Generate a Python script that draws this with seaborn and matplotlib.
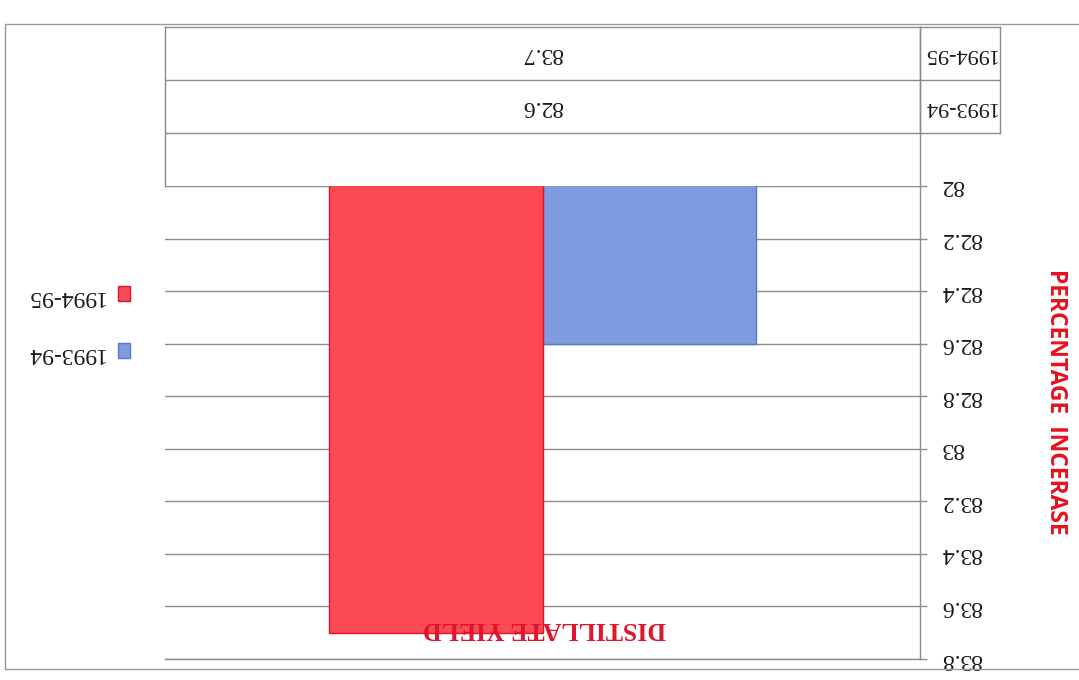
import numpy as np
import pandas as pd
import matplotlib
matplotlib.use('Agg')
import matplotlib.pyplot as plt
import seaborn as sns
from matplotlib.patches import Rectangle, Patch

sns.set_style('white')
plt.rcParams['font.family'] = ['Liberation Serif', 'DejaVu Serif']

# chart data (scan is upside down, so everything is drawn turned by 180 degrees)
item = ['']
years = ['1993-94', '1994-95']
values = [82.6, 83.7]
value_text = ['82.6', '83.7']
title = 'DISTILLATE YIELD'
ylabel = 'PERCENTAGE  INCERASE'
yticks = [82, 82.2, 82.4, 82.6, 82.8, 83, 83.2, 83.4, 83.6, 83.8]
ytick_labels = ['82', '82.2', '82.4', '82.6', '82.8', '83', '83.2', '83.4', '83.6', '83.8']

colors = ['#7f9be0', '#fc4a55']
edges = ['#5877d0', '#e0142a']
grid_c = '#8c8c8c'

df = pd.DataFrame({'Item': item * len(years), 'Year': years, 'Value': values})

W, H = 1079, 680
fig = plt.figure(figsize=(W / 100, H / 100), dpi=100)
fig.patch.set_facecolor('white')

# outer chart frame
fig.add_artist(Rectangle((5 / W, 1 - 669 / H), 1.2, (669 - 24) / H, transform=fig.transFigure,
                         fill=False, ec='#9a9a9a', lw=1))

# plot area: 82 at top, 83.8 at bottom, series order mirrored
ax = fig.add_axes([165 / W, 1 - 659 / H, 755 / W, 473 / H])
sns.barplot(data=df, x='Item', y='Value', hue='Year', hue_order=years, palette=colors,
            width=0.565, saturation=1, legend=False, ax=ax)
for p, ec in zip(ax.patches, edges):
    p.set_edgecolor(ec)
    p.set_linewidth(1)
ax.set_ylim(83.8, 82)
ax.set_xlim(0.5, -0.5)
ax.set_yticks(yticks)
ax.set_yticklabels(ytick_labels)
ax.set_xticks([])
ax.set_xlabel('')
ax.set_ylabel('')
ax.yaxis.tick_right()
ax.tick_params(axis='y', direction='out', length=5, width=1, color=grid_c,
               labelsize=17, labelrotation=180, pad=10, labelcolor='#1a1a1a')
for t in ax.get_yticklabels():
    t.set_va('center')
ax.yaxis.grid(True, color=grid_c, lw=1)
ax.set_axisbelow(True)
for s in ['left', 'top']:
    ax.spines[s].set_visible(False)
for s in ['right', 'bottom']:
    ax.spines[s].set_color(grid_c)
    ax.spines[s].set_linewidth(1)
ax.set_facecolor('none')

# y axis title, reads downwards on the right
fig.text(1056 / W, 1 - 402 / H, ylabel, rotation=270, color='#e8101e', fontsize=16.5,
         fontweight='bold', family=['Open Sans', 'DejaVu Sans'], ha='center', va='center')

# title, upside down near the bottom
fig.text(545 / W, 1 - 628 / H, title, rotation=180, color='#e0142c', fontsize=18.5,
         fontweight='bold', ha='center', va='center', zorder=5)

# data table above the plot (rows mirrored)
tax = fig.add_axes([165 / W, 1 - 186 / H, 755 / W, 159 / H])
tax.set_xlim(0, 1)
tax.set_ylim(0, 3)
tax.set_xticks([])
tax.set_yticks([])
tax.set_facecolor('none')
for s in tax.spines.values():
    s.set_color(grid_c)
    s.set_linewidth(1)
tax.spines['bottom'].set_visible(False)
for r in [1, 2]:
    tax.axhline(r, color=grid_c, lw=1)
for i, txt in enumerate(value_text):
    tax.text(0.5, i + 1.5, txt, rotation=180, ha='center', va='center', fontsize=17,
             color='#1a1a1a')

# row label cells
lax = fig.add_axes([920 / W, 1 - 133 / H, 80 / W, 106 / H])
lax.set_xlim(0, 1)
lax.set_ylim(1, 3)
lax.set_xticks([])
lax.set_yticks([])
lax.set_facecolor('none')
for s in lax.spines.values():
    s.set_color(grid_c)
    s.set_linewidth(1)
lax.axhline(2, color=grid_c, lw=1)
for i, yr in enumerate(years):
    lax.text(0.5, i + 1.5, yr, rotation=180, ha='center', va='center', fontsize=16,
             color='#1a1a1a')

# legend on the left, marker after the text
handles = [Patch(facecolor=c, edgecolor=e) for c, e in zip(colors, edges)][::-1]
leg = fig.legend(handles, years[::-1], loc='center', bbox_to_anchor=(78 / W, 1 - 325 / H),
                 frameon=False, markerfirst=False, fontsize=17, handlelength=0.5,
                 handleheight=0.6, handletextpad=0.6, labelspacing=1.55)
for t in leg.get_texts():
    t.set_rotation(180)
    t.set_color('#1a1a1a')

fig.savefig('out.png', dpi=100, facecolor='white')
